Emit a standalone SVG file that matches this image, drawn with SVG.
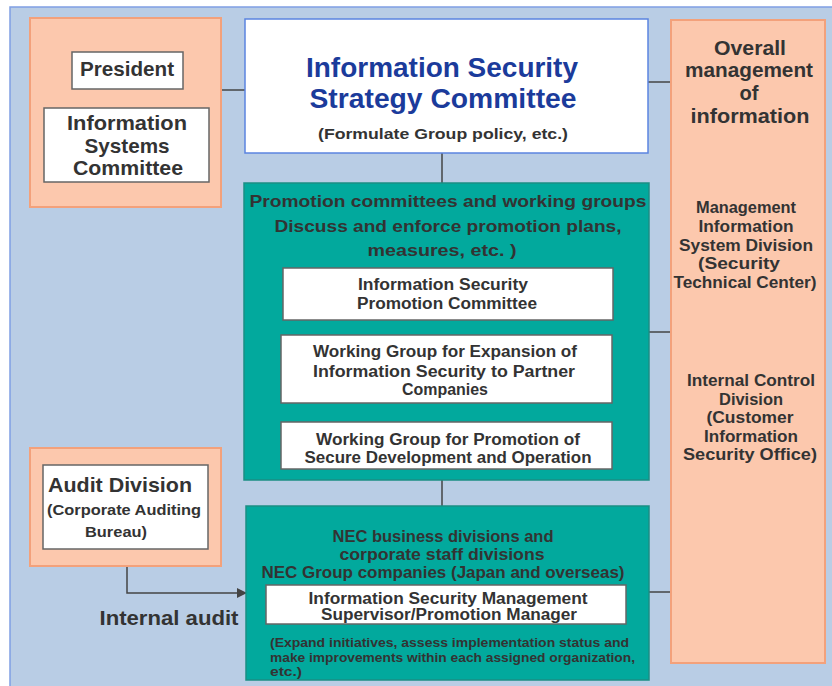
<svg xmlns="http://www.w3.org/2000/svg" width="832" height="686" viewBox="0 0 832 686">
<style>
text{font-family:"Liberation Sans",Arial,sans-serif;font-weight:bold;fill:#333;text-anchor:middle}
.orange{fill:#fcc8ad;stroke:#f3a17b;stroke-width:2}
.teal{fill:#02a99d;stroke:#1b8e84;stroke-width:1.5}
.wbox{fill:#fff;stroke:#666;stroke-width:1.5}
.conn{stroke:#444;stroke-width:1.5;fill:none}
.t21{font-size:21px}
.t16{font-size:16px}
.t17{font-size:17px}
.t12{font-size:12px;text-anchor:start}
.blue{fill:#1b3b9b;font-size:27px}
</style>
<defs>
<marker id="arr" markerWidth="10" markerHeight="10" refX="9" refY="5" orient="auto" markerUnits="userSpaceOnUse">
<path d="M0,0 L10,5 L0,10 Z" fill="#444"/>
</marker>
</defs>
<rect x="0" y="0" width="832" height="686" fill="#fff"/>
<rect x="10" y="7" width="830" height="690" fill="#b9cde5" stroke="#7f9fe3" stroke-width="1.5"/>

<g id="connectors">
<line class="conn" x1="126" y1="89" x2="126" y2="108"/>
<line class="conn" x1="221" y1="90" x2="246" y2="90"/>
<line class="conn" x1="648" y1="82" x2="672" y2="82"/>
<line class="conn" x1="442" y1="153" x2="442" y2="183"/>
<line class="conn" x1="442" y1="480" x2="442" y2="506"/>
<line class="conn" x1="649" y1="332" x2="671" y2="332"/>
<line class="conn" x1="649" y1="592" x2="671" y2="592"/>
<polyline class="conn" points="127,566 127,593 246,593" marker-end="url(#arr)"/>
</g>

<g id="top-left-group">
<rect class="orange" x="30" y="18" width="191" height="189"/>
</g>
<g id="president">
<rect class="wbox" x="72" y="52" width="111" height="37"/>
<text class="t21" x="127" y="76" textLength="94" lengthAdjust="spacingAndGlyphs">President</text>
</g>
<g id="info-systems-committee">
<rect class="wbox" x="44" y="108" width="165" height="74"/>
<text class="t21" x="127" y="130" textLength="120" lengthAdjust="spacingAndGlyphs">Information</text>
<text class="t21" x="127" y="153" textLength="85" lengthAdjust="spacingAndGlyphs">Systems</text>
<text class="t21" x="128" y="175" textLength="110" lengthAdjust="spacingAndGlyphs">Committee</text>
</g>

<g id="strategy-committee">
<rect x="245" y="19" width="403" height="134" fill="#fff" stroke="#5b84e0" stroke-width="1.5"/>
<text class="blue" x="442" y="77" textLength="272" lengthAdjust="spacingAndGlyphs">Information Security</text>
<text class="blue" x="443" y="108" textLength="267" lengthAdjust="spacingAndGlyphs">Strategy Committee</text>
<text x="443" y="139" font-size="15.5" textLength="250" lengthAdjust="spacingAndGlyphs">(Formulate Group policy, etc.)</text>
</g>

<g id="overall-management">
<rect class="orange" x="671" y="20" width="154" height="643"/>
<text class="t21" x="750" y="55" textLength="72" lengthAdjust="spacingAndGlyphs">Overall</text>
<text class="t21" x="749" y="77" textLength="128" lengthAdjust="spacingAndGlyphs">management</text>
<text class="t21" x="749" y="100" textLength="19" lengthAdjust="spacingAndGlyphs">of</text>
<text class="t21" x="750" y="123" textLength="119" lengthAdjust="spacingAndGlyphs">information</text>
<text class="t16" x="746" y="213" textLength="100" lengthAdjust="spacingAndGlyphs">Management</text>
<text class="t16" x="746" y="232" textLength="95" lengthAdjust="spacingAndGlyphs">Information</text>
<text class="t16" x="746" y="251" textLength="134" lengthAdjust="spacingAndGlyphs">System Division</text>
<text class="t16" x="739" y="269" textLength="82" lengthAdjust="spacingAndGlyphs">(Security</text>
<text class="t16" x="745" y="288" textLength="143" lengthAdjust="spacingAndGlyphs">Technical Center)</text>
<text class="t16" x="751" y="386" textLength="128" lengthAdjust="spacingAndGlyphs">Internal Control</text>
<text class="t16" x="751" y="405" textLength="64" lengthAdjust="spacingAndGlyphs">Division</text>
<text class="t16" x="750" y="423" textLength="87" lengthAdjust="spacingAndGlyphs">(Customer</text>
<text class="t16" x="751" y="442" textLength="94" lengthAdjust="spacingAndGlyphs">Information</text>
<text class="t16" x="750" y="460" textLength="134" lengthAdjust="spacingAndGlyphs">Security Office)</text>
</g>

<g id="promotion-committees">
<rect class="teal" x="244" y="183" width="405" height="297"/>
<text class="t17" x="448" y="207" textLength="397" lengthAdjust="spacingAndGlyphs">Promotion committees and working groups</text>
<text class="t17" x="448" y="232" textLength="347" lengthAdjust="spacingAndGlyphs">Discuss and enforce promotion plans,</text>
<text class="t17" x="442" y="256" textLength="149" lengthAdjust="spacingAndGlyphs">measures, etc. )</text>
</g>
<g id="promotion-committee">
<rect class="wbox" x="283" y="268" width="330" height="52"/>
<text class="t16" x="443" y="290" textLength="170" lengthAdjust="spacingAndGlyphs">Information Security</text>
<text class="t16" x="447" y="309" textLength="180" lengthAdjust="spacingAndGlyphs">Promotion Committee</text>
</g>
<g id="wg-partner">
<rect class="wbox" x="281" y="335" width="331" height="68"/>
<text class="t16" x="445" y="357" textLength="264" lengthAdjust="spacingAndGlyphs">Working Group for Expansion of</text>
<text class="t16" x="444" y="377" textLength="262" lengthAdjust="spacingAndGlyphs">Information Security to Partner</text>
<text class="t16" x="445" y="395" textLength="86" lengthAdjust="spacingAndGlyphs">Companies</text>
</g>
<g id="wg-secure-dev">
<rect class="wbox" x="281" y="422" width="331" height="47"/>
<text class="t16" x="448" y="445" textLength="264" lengthAdjust="spacingAndGlyphs">Working Group for Promotion of</text>
<text class="t16" x="448" y="463" textLength="287" lengthAdjust="spacingAndGlyphs">Secure Development and Operation</text>
</g>

<g id="business-divisions">
<rect class="teal" x="246" y="506" width="403" height="174"/>
<text class="t16" x="443" y="542" textLength="221" lengthAdjust="spacingAndGlyphs">NEC business divisions and</text>
<text class="t16" x="442" y="560" textLength="205" lengthAdjust="spacingAndGlyphs">corporate staff divisions</text>
<text class="t16" x="443" y="578" textLength="363" lengthAdjust="spacingAndGlyphs">NEC Group companies (Japan and overseas)</text>
<rect class="wbox" x="266" y="585" width="360" height="39"/>
<text class="t16" x="448" y="604" textLength="279" lengthAdjust="spacingAndGlyphs">Information Security Management</text>
<text class="t16" x="449" y="620" textLength="256" lengthAdjust="spacingAndGlyphs">Supervisor/Promotion Manager</text>
<text class="t12" x="270" y="647" textLength="359" lengthAdjust="spacingAndGlyphs">(Expand initiatives, assess implementation status and</text>
<text class="t12" x="270" y="662" textLength="365" lengthAdjust="spacingAndGlyphs">make improvements within each assigned organization,</text>
<text class="t12" x="270" y="676" textLength="32" lengthAdjust="spacingAndGlyphs">etc.)</text>
</g>

<g id="audit-division">
<rect class="orange" x="30" y="448" width="191" height="118"/>
<rect class="wbox" x="43" y="465" width="165" height="84"/>
<text class="t21" x="120" y="492" textLength="144" lengthAdjust="spacingAndGlyphs">Audit Division</text>
<text x="124" y="515" font-size="15" textLength="154" lengthAdjust="spacingAndGlyphs">(Corporate Auditing</text>
<text x="116" y="537" font-size="15" textLength="62" lengthAdjust="spacingAndGlyphs">Bureau)</text>
</g>

<g id="internal-audit-label">
<text x="169" y="625" font-size="20" textLength="139" lengthAdjust="spacingAndGlyphs">Internal audit</text>
</g>
</svg>
